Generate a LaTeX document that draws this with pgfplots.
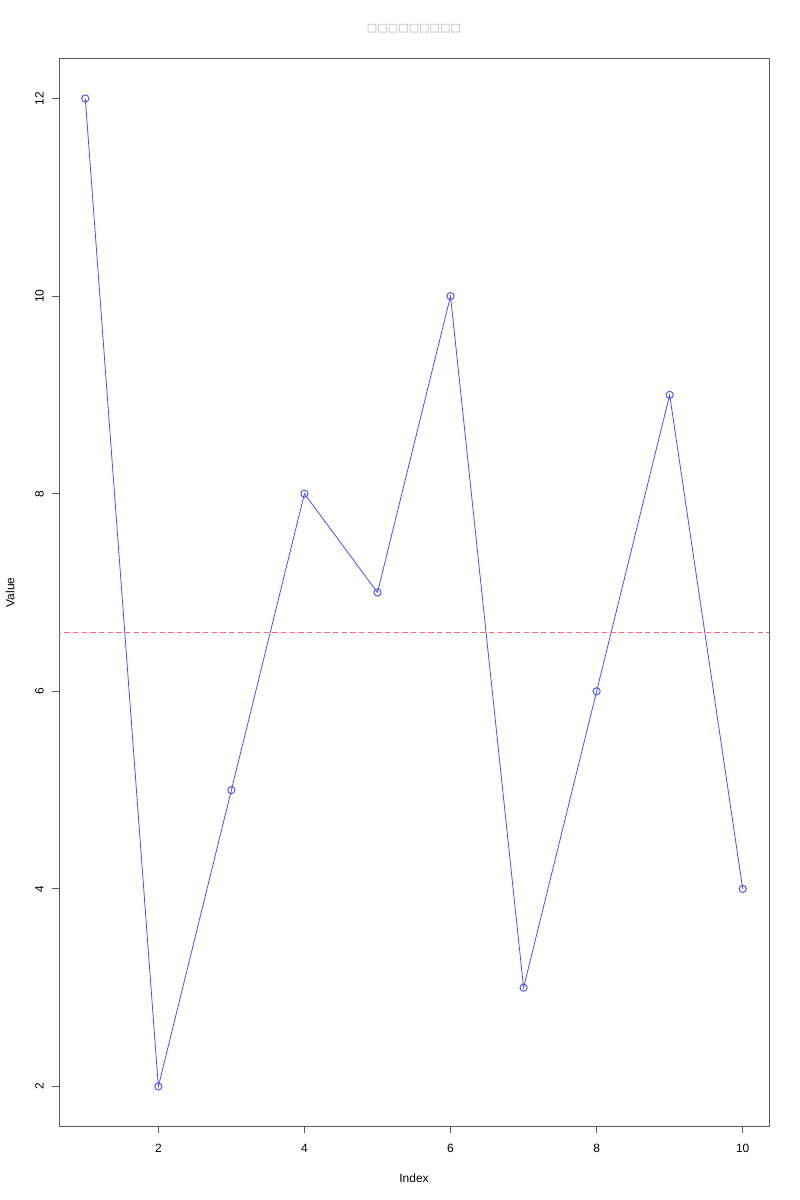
\documentclass[border=0pt]{standalone}
\usepackage{pgfplots}
\pgfplotsset{compat=1.18}
\usepackage{fontspec}
\setmainfont{Liberation Sans}
\newfontfamily\symfont{DejaVu Sans}
\definecolor{lineblue}{RGB}{77,77,255}
\definecolor{meanred}{RGB}{255,102,128}
\definecolor{axgray}{RGB}{90,90,90}
\begin{document}
\begin{tikzpicture}
\path[use as bounding box] (0,0) rectangle (600bp,900bp);
\begin{axis}[
  name=ax,
  at={(44.25bp,55.5bp)}, anchor=south west,
  scale only axis, width=532.5bp, height=800.25bp,
  xmin=0.64, xmax=10.36, ymin=1.6, ymax=12.4,
  xtick={2,4,6,8,10}, ytick={2,4,6,8,10,12},
  xtick pos=bottom, ytick pos=left,
  tick align=outside, major tick length=5bp,
  tick style={axgray, line width=0.75bp},
  axis line style={axgray, line width=0.75bp},
  every tick label/.append style={font=\fontsize{9bp}{10bp}\selectfont, black},
  /pgf/number format/assume math mode=true,
  xticklabel shift=5bp,
  yticklabel style={rotate=90, anchor=south},
  yticklabel shift=3bp,
  clip=true,
]
\addplot[color=lineblue, line width=0.6bp, mark=o, mark size=2.7bp, mark options={solid, line width=0.7bp}]
  coordinates {(1,12) (2,2) (3,5) (4,8) (5,7) (6,10) (7,3) (8,6) (9,9) (10,4)};
\addplot[color=meanred, line width=0.75bp, dash pattern=on 4bp off 2.5bp] coordinates {(0,6.6) (11,6.6)};
\end{axis}
\node[font=\fontsize{9bp}{10bp}\selectfont] at ([yshift=-39bp]ax.south) {Index};
\node[font=\fontsize{9bp}{10bp}\selectfont, rotate=90] at ([xshift=-36.75bp]ax.west) {Value};
\node[font=\fontsize{8.3bp}{10bp}\symfont, text=black!30] at ([yshift=22.5bp]ax.north) {□□□□□□□□□};
\end{tikzpicture}
\end{document}
